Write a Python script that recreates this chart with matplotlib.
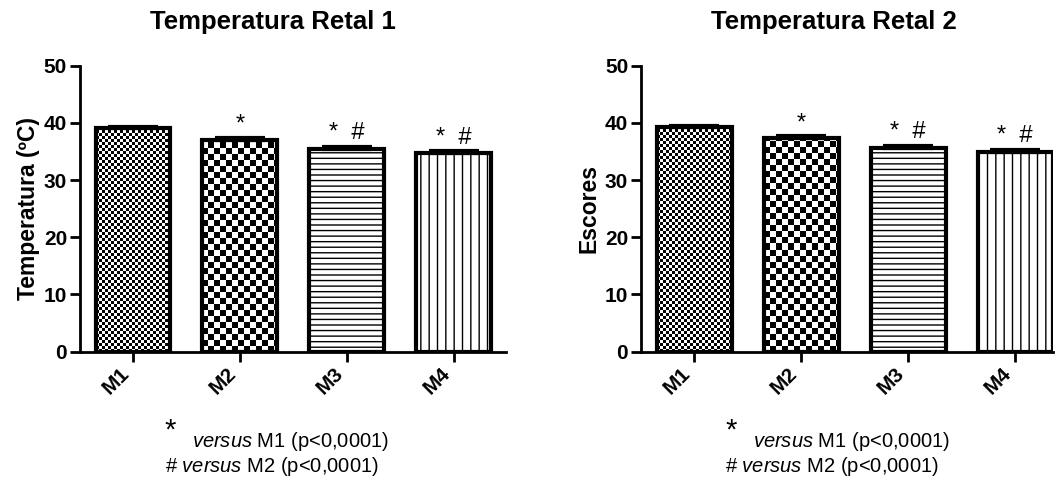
import matplotlib
matplotlib.use("Agg")
import matplotlib.pyplot as plt
import numpy as np

plt.rcParams['font.family'] = ['Liberation Sans', 'DejaVu Sans']
plt.rcParams['mathtext.fontset'] = 'custom'
plt.rcParams['mathtext.rm'] = 'Liberation Sans'
plt.rcParams['mathtext.it'] = 'Liberation Sans:italic'
plt.rcParams['hatch.linewidth'] = 1.0
plt.rcParams['hatch.color'] = 'black'

# ---- data ----
groups = ['M1', 'M2', 'M3', 'M4']
temp1_mean = [39.1, 37.0, 35.5, 34.7]
temp1_sem = [0.25, 0.35, 0.35, 0.35]
temp2_mean = [39.25, 37.3, 35.7, 35.0]
temp2_sem = [0.25, 0.35, 0.35, 0.35]
marks = ['', '*', '*  #', '*  #']
patterns = ['fine', 'coarse', 'hlines', 'vlines']


def add_texture(ax, bar, kind):
    # checkerboards as a clipped image; line fills as hatches
    if kind == 'hlines':
        bar.set_hatch('---')
        return
    if kind == 'vlines':
        bar.set_hatch('||')
        return
    x0, w, h = bar.get_x(), bar.get_width(), bar.get_height()
    p0 = ax.transData.transform((x0, 0))
    p1 = ax.transData.transform((x0 + w, h))
    nx, ny = int(round(p1[0] - p0[0])), int(round(p1[1] - p0[1]))
    ii, jj = np.mgrid[0:ny, 0:nx]
    cell = 3 if kind == 'fine' else 6
    arr = ((ii // cell + jj // cell) % 2)
    ax.imshow(arr, cmap='gray_r', vmin=0, vmax=1, origin='lower',
              extent=(x0, x0 + w, 0, h), interpolation='nearest',
              aspect='auto', zorder=1)


def draw_panel(fig, rect, means, sems, title, ylabel, xmax, title_x, note_x):
    ax = fig.add_axes(rect)
    x = np.arange(len(groups))
    ax.set_xlim(-0.5, xmax)
    ax.set_ylim(0, 50)
    bars = ax.bar(x, means, width=0.7, facecolor='none', edgecolor='black',
                  linewidth=3, zorder=3)
    for b, k in zip(bars, patterns):
        add_texture(ax, b, k)
    ax.errorbar(x, means, yerr=[np.zeros(len(sems)), sems], fmt='none',
                ecolor='black', elinewidth=2, capsize=18, capthick=3, zorder=4)
    for xi, m, s, t in zip(x, means, sems, marks):
        if t:
            ax.text(xi, m + s + 0.4, t, ha='center', va='bottom', fontsize=17)
    ax.set_xlim(-0.5, xmax)
    ax.set_ylim(0, 50)
    ax.set_xticks(x)
    ax.set_xticklabels(groups, rotation=45, ha='right', fontsize=15,
                       fontweight='bold')
    ax.set_yticks([0, 10, 20, 30, 40, 50])
    ax.set_yticklabels([0, 10, 20, 30, 40, 50], fontsize=15, fontweight='bold')
    ax.set_ylabel(ylabel, fontsize=16.5, fontweight='bold', labelpad=3)
    for sp in ['top', 'right']:
        ax.spines[sp].set_visible(False)
    for sp in ['left', 'bottom']:
        ax.spines[sp].set_linewidth(2)
    ax.tick_params(width=2, length=7, pad=2)
    fig.text(title_x, 0.955, title, ha='center', va='center', fontsize=18.5,
             fontweight='bold')
    # footnote
    fig.text(note_x, 0.100, '*', ha='left', va='baseline', fontsize=21)
    fig.text(note_x + 0.026, 0.083, r'$\mathit{versus}$ M1 (p<0,0001)',
             ha='left', va='baseline', fontsize=14.5)
    fig.text(note_x, 0.030, r'# $\mathit{versus}$ M2 (p<0,0001)',
             ha='left', va='baseline', fontsize=14.5)
    return ax


fig = plt.figure(figsize=(10.62, 4.87), dpi=100)
draw_panel(fig, [0.0749, 0.278, 0.4016, 0.587], temp1_mean, temp1_sem,
           'Temperatura Retal 1', 'Temperatura (ºC)', 3.49, 0.257, 0.155)
draw_panel(fig, [0.6033, 0.278, 0.388, 0.587], temp2_mean, temp2_sem,
           'Temperatura Retal 2', 'Escores', 3.35, 0.785, 0.683)

fig.savefig('out.png', dpi=100)
